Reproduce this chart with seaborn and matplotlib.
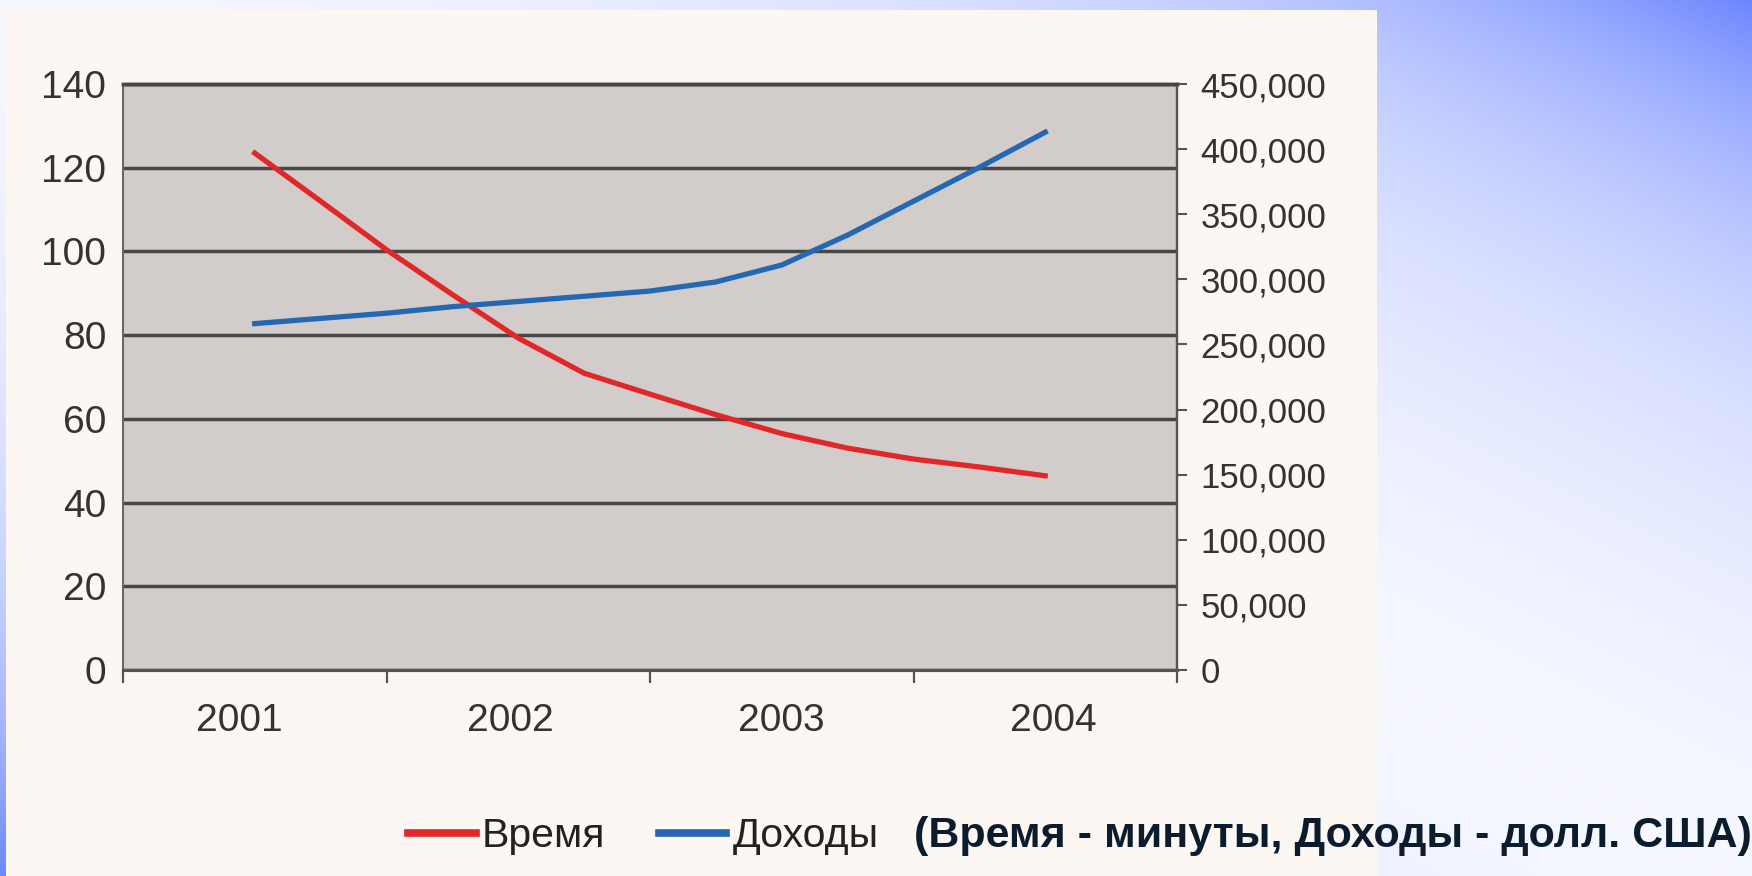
import numpy as np
import pandas as pd
import matplotlib
matplotlib.use("Agg")
import matplotlib.pyplot as plt
from matplotlib.patches import Rectangle
import seaborn as sns

# values (quarterly points along the curves)
years = ["2001", "2002", "2003", "2004"]
quarters = [2001.0, 2001.25, 2001.5, 2001.75, 2002.0, 2002.25, 2002.5,
            2002.75, 2003.0, 2003.25, 2003.5, 2003.75, 2004.0]
time_min = [123.5, 112, 100.4, 89.7, 79.3, 70.9, 65.9, 61, 56.5, 53, 50.4, 48.5, 46.4]
income_usd = [266000, 270000, 274000, 279000, 283000, 287000, 291000,
              298000, 311000, 334000, 360000, 386000, 413000]
left_ticks = [0, 20, 40, 60, 80, 100, 120, 140]
right_ticks = [0, 50000, 100000, 150000, 200000, 250000, 300000, 350000, 400000, 450000]
series_names = ["Время", "Доходы"]
note = "(Время - минуты, Доходы - долл. США)"

df = pd.DataFrame({"year": quarters, "time": time_min, "income": income_usd})

narrow = ["Liberation Sans Narrow", "Liberation Sans", "DejaVu Sans"]
regular = ["Liberation Sans", "DejaVu Sans"]

fig = plt.figure(figsize=(17.52, 8.76), dpi=100)
W, H = 1752, 876

# slide background: blue gradient from the top-right corner (mirrored at bottom-left) + cream panel
bg = fig.add_axes([0, 0, 1, 1])
yy, xx = np.mgrid[0:H, 0:W]
v = (W - xx) / W + yy / H
k = np.maximum(np.exp(-v / 0.35), np.exp(-(2 - v) / 0.35))
blue = np.array([108, 134, 255]) / 255
img = 1 - k[..., None] * (1 - blue)
bg.imshow(img, extent=[0, 1, 0, 1], aspect="auto", origin="upper")
bg.add_patch(Rectangle((6 / W, 0), (1377 - 6) / W, 1 - 10 / H,
                       transform=bg.transAxes, facecolor="#fdf7f4", edgecolor="none"))
bg.set_xlim(0, 1)
bg.set_ylim(0, 1)
bg.axis("off")

# main chart
ax = fig.add_axes([123 / W, 1 - 670 / H, (1177 - 123) / W, (670 - 84) / H])
ax.set_facecolor("#d2cdcb")
sns.lineplot(data=df, x="year", y="time", ax=ax, color="#e0282b", linewidth=3.8,
             label=series_names[0], legend=False)
ax2 = ax.twinx()
sns.lineplot(data=df, x="year", y="income", ax=ax2, color="#2468b2", linewidth=3.8,
             label=series_names[1], legend=False)

ax.set_xlim(2000.5, 2004.5)
ax.set_ylim(0, 140)
ax2.set_ylim(0, 450000)

ax.set_yticks(left_ticks)
ax.set_yticklabels([str(v) for v in left_ticks], family=narrow, fontsize=28, color="#333333")
ax.tick_params(axis="y", length=0, pad=12)
ax.yaxis.grid(True, color="#474747", linewidth=2.5)
ax.set_axisbelow(True)

ax.set_xticks([2000.5, 2001.5, 2002.5, 2003.5, 2004.5])
ax.set_xticklabels([])
ax.set_xticks([2000.94, 2001.97, 2003.0, 2004.03], minor=True)
ax.set_xticklabels(years, minor=True, family=narrow, fontsize=28, color="#333333")
ax.tick_params(axis="x", which="major", direction="out", length=9, width=1.6, color="#555555")
ax.tick_params(axis="x", which="minor", length=0, pad=24)
ax.set_xlabel("")
ax.set_ylabel("")

ax2.set_yticks(right_ticks)
ax2.set_yticklabels([f"{v:,}" for v in right_ticks], family=regular, fontsize=25, color="#333333")
ax2.tick_params(axis="y", direction="out", length=7, width=1.5, color="#555555", pad=10)
ax2.set_ylabel("")
ax2.grid(False)

for a in (ax, ax2):
    a.spines["top"].set_color("#474747")
    a.spines["top"].set_linewidth(2.5)
    a.spines["bottom"].set_color("#555555")
    a.spines["bottom"].set_linewidth(2.2)
    a.spines["left"].set_color("#666666")
    a.spines["left"].set_linewidth(1.3)
    a.spines["right"].set_color("#555555")
    a.spines["right"].set_linewidth(1.6)

# legend and note under the chart
handles = [ax.lines[0], ax2.lines[0]]
leg = fig.legend(handles, series_names, loc="center left",
                 bbox_to_anchor=(408 / W, 1 - 836 / H), ncol=2, frameon=False,
                 borderpad=0, borderaxespad=0, handlelength=1.65, handletextpad=0.15,
                 columnspacing=1.3, prop={"family": regular, "size": 29.5})
for t in leg.get_texts():
    t.set_color("#222222")
for line in leg.get_lines():
    line.set_linewidth(5.5)

fig.text(914 / W, 1 - 836 / H, note, ha="left", va="center", family=regular,
         fontweight="bold", fontsize=31, color="#0b1d2d")

fig.savefig("out.png", dpi=100)
